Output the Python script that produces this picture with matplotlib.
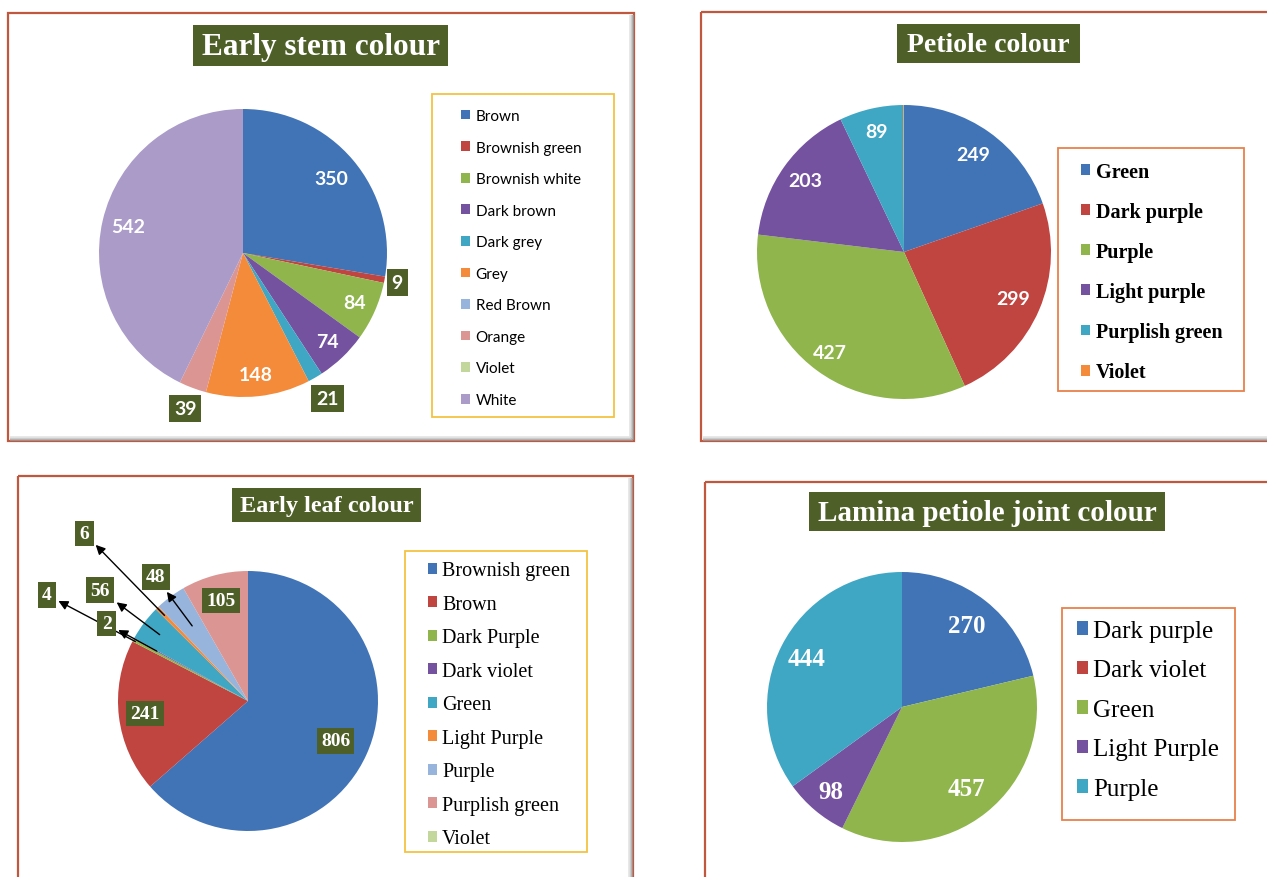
import matplotlib
matplotlib.use("Agg")
import matplotlib.pyplot as plt
from matplotlib.patches import Rectangle, Patch
import numpy as np

# ---------------- data ----------------
stem_title = "Early stem colour"
stem_labels = ["Brown", "Brownish green", "Brownish white", "Dark brown", "Dark grey",
               "Grey", "Red Brown", "Orange", "Violet", "White"]
stem_values = [350, 9, 84, 74, 21, 148, 0, 39, 0, 542]

petiole_title = "Petiole colour"
petiole_labels = ["Green", "Dark purple", "Purple", "Light purple", "Purplish green", "Violet"]
petiole_values = [249, 299, 427, 203, 89, 1]

leaf_title = "Early leaf colour"
leaf_labels = ["Brownish green", "Brown", "Dark Purple", "Dark violet", "Green",
               "Light Purple", "Purple", "Purplish green", "Violet"]
leaf_values = [806, 241, 4, 2, 56, 6, 48, 105, 0]

lamina_title = "Lamina petiole joint colour"
lamina_labels = ["Dark purple", "Dark violet", "Green", "Light Purple", "Purple"]
lamina_values = [270, 0, 457, 98, 444]

# ---------------- styles ----------------
BLUE, RED, GREEN, PURPLE, AQUA, ORANGE = "#4174B6", "#C0443F", "#8FB54C", "#7452A0", "#3FA7C4", "#F38B3A"
LBLUE, PINK, LGREEN, LAV = "#97B4DC", "#DB9694", "#C3D69B", "#AA9BC8"
PALETTE = [BLUE, RED, GREEN, PURPLE, AQUA, ORANGE, LBLUE, PINK, LGREEN, LAV]
BOXGREEN = "#4E6028"
FRAME = "#C0573E"
SERIF = ["Liberation Serif", "DejaVu Serif"]
SANS = ["Lato", "DejaVu Sans"]

W, H = 1267, 878
fig = plt.figure(figsize=(W / 100, H / 100), dpi=100)
bg = fig.add_axes([0, 0, 1, 1])
bg.set_xlim(0, W)
bg.set_ylim(H, 0)
bg.axis("off")


def frame(x0, y0, x1, y1):
    for i, c in enumerate(["#9a9a9a", "#b5b5b5", "#cfcfcf", "#e4e4e4"]):
        bg.plot([x0 + 2, x1 - 1.5 - i], [y1 - 1.5 - i, y1 - 1.5 - i], color=c, lw=1.2, solid_capstyle="butt")
        bg.plot([x1 - 1.5 - i, x1 - 1.5 - i], [y0 + 2, y1 - 1.5 - i], color=c, lw=1.2, solid_capstyle="butt")
    bg.add_patch(Rectangle((x0, y0), x1 - x0, y1 - y0, fill=False, ec=FRAME, lw=1.6))


def title_box(x0, y0, x1, y1, text, size):
    bg.add_patch(Rectangle((x0, y0), x1 - x0, y1 - y0, fc=BOXGREEN, ec="none"))
    bg.text((x0 + x1) / 2, (y0 + y1) / 2 + 1, text, ha="center", va="center", color="white",
            fontsize=size, fontweight="bold", family=SERIF)


def legend_box(x0, y0, x1, y1, color):
    bg.add_patch(Rectangle((x0, y0), x1 - x0, y1 - y0, fill=False, ec=color, lw=1.3))


def pie_axes(cx, cy, r):
    ax = fig.add_axes([(cx - r) / W, 1 - (cy + r) / H, 2 * r / W, 2 * r / H])
    ax.set_xlim(-1, 1)
    ax.set_ylim(-1, 1)
    ax.axis("off")
    return ax


def draw_pie(ax, values, colors):
    wedges, _ = ax.pie(values, colors=colors, startangle=90, counterclock=False, radius=1,
                       wedgeprops=dict(linewidth=0))
    ax.set_xlim(-1, 1)
    ax.set_ylim(-1, 1)
    return wedges


def mid(w):
    return np.deg2rad((w.theta1 + w.theta2) / 2)


def add_legend(labels, colors, xleft, ycenter, fs, spacing, family, weight, hl, pad):
    handles = [Patch(fc=c, ec="none") for c in colors]
    leg = fig.legend(handles, labels, loc="center left", bbox_to_anchor=(xleft / W, 1 - ycenter / H),
                     frameon=False, borderpad=0, borderaxespad=0, labelspacing=spacing,
                     handlelength=hl, handleheight=hl, handletextpad=pad,
                     prop=dict(family=family, size=fs, weight=weight))
    return leg


# ---------- Panel 1: Early stem colour ----------
frame(8, 14, 634, 442)
title_box(193, 26, 448, 67, stem_title, 22.5)
legend_box(432, 95, 614, 418, "#F5C242")
ax1 = pie_axes(243, 254, 144)
w1 = draw_pie(ax1, stem_values, PALETTE[:len(stem_values)])
stem_dist = [0.80, 1.09, 0.85, 0.85, 1.17, 0.85, 0, 1.15, 0, 0.82]
stem_boxed = [False, True, False, False, True, False, False, True, False, False]
for w, v, d, b in zip(w1, stem_values, stem_dist, stem_boxed):
    if v == 0:
        continue
    a = mid(w)
    ax1.text(d * np.cos(a), d * np.sin(a), str(v), ha="center", va="center", color="white",
             fontsize=14, fontweight="bold", family=SANS,
             bbox=dict(boxstyle="square,pad=0.25", fc=BOXGREEN, ec="none") if b else None,
             clip_on=False)
add_legend(stem_labels, PALETTE[:len(stem_labels)], 461, 259, 11, 1.15, SANS, "normal", 0.6, 0.35)

# ---------- Panel 2: Petiole colour ----------
frame(701, 13, 1275, 442)
title_box(897, 25, 1080, 64, petiole_title, 20)
legend_box(1058, 149, 1244, 392, "#E8804A")
ax2 = pie_axes(904, 253, 147)
pet_colors = [BLUE, RED, GREEN, PURPLE, AQUA, ORANGE]
w2 = draw_pie(ax2, petiole_values, pet_colors)
pet_dist = [0.81, 0.81, 0.85, 0.83, 0.84, 0]
for w, v, d in zip(w2, petiole_values, pet_dist):
    if d == 0:
        continue
    a = mid(w)
    ax2.text(d * np.cos(a), d * np.sin(a), str(v), ha="center", va="center", color="white",
             fontsize=14, fontweight="bold", family=SANS)
add_legend(petiole_labels, pet_colors, 1081, 273, 14.5, 1.0, SERIF, "bold", 0.45, 0.3)

# ---------- Panel 3: Early leaf colour ----------
frame(18, 477, 633, 885)
title_box(232, 489, 421, 523, leaf_title, 17.5)
legend_box(405, 552, 587, 853, "#F5C242")
ax3 = pie_axes(248, 702, 130)
leaf_colors = [BLUE, RED, GREEN, PURPLE, AQUA, ORANGE, LBLUE, PINK, LGREEN]
w3 = draw_pie(ax3, leaf_values, leaf_colors)
leaf_inner = [0.74, 0.80, None, None, None, None, None, 0.80, None]
leaf_arrow_start = [None, None, 0.98, 0.80, 0.85, 0.92, 0.72, None, None]
leaf_arrow_label = [None, None, 1.75, 1.24, 1.42, 1.80, 1.19, None, None]
box = dict(boxstyle="square,pad=0.22", fc=BOXGREEN, ec="none")
for w, v, di, ds, dl in zip(w3, leaf_values, leaf_inner, leaf_arrow_start, leaf_arrow_label):
    if v == 0:
        continue
    a = mid(w)
    if di is not None:
        ax3.text(di * np.cos(a), di * np.sin(a), str(v), ha="center", va="center", color="white",
                 fontsize=14, fontweight="bold", family=SERIF, bbox=box)
    else:
        ax3.annotate(str(v), xy=(ds * np.cos(a), ds * np.sin(a)),
                     xytext=(dl * np.cos(a), dl * np.sin(a)),
                     ha="center", va="center", color="white", fontsize=14, fontweight="bold",
                     family=SERIF, bbox=box, annotation_clip=False,
                     arrowprops=dict(arrowstyle="<|-", color="black", lw=1.0,
                                     mutation_scale=14, shrinkA=2, shrinkB=0))
add_legend(leaf_labels, leaf_colors, 428, 706, 14.5, 0.72, SERIF, "normal", 0.45, 0.25)

# ---------- Panel 4: Lamina petiole joint colour ----------
frame(705, 483, 1275, 885)
title_box(809, 493, 1165, 532, lamina_title, 21)
legend_box(1062, 609, 1235, 821, "#E8804A")
ax4 = pie_axes(902, 708, 135)
lam_colors = [BLUE, RED, GREEN, PURPLE, AQUA]
w4 = draw_pie(ax4, lamina_values, lam_colors)
lam_dist = [0.77, 0, 0.77, 0.82, 0.79]
for w, v, d in zip(w4, lamina_values, lam_dist):
    if v == 0:
        continue
    a = mid(w)
    ax4.text(d * np.cos(a), d * np.sin(a), str(v), ha="center", va="center", color="white",
             fontsize=18, fontweight="bold", family=SERIF)
add_legend(lamina_labels, lam_colors, 1077, 711, 18, 0.7, SERIF, "normal", 0.45, 0.2)

fig.savefig("out.png", dpi=100)
